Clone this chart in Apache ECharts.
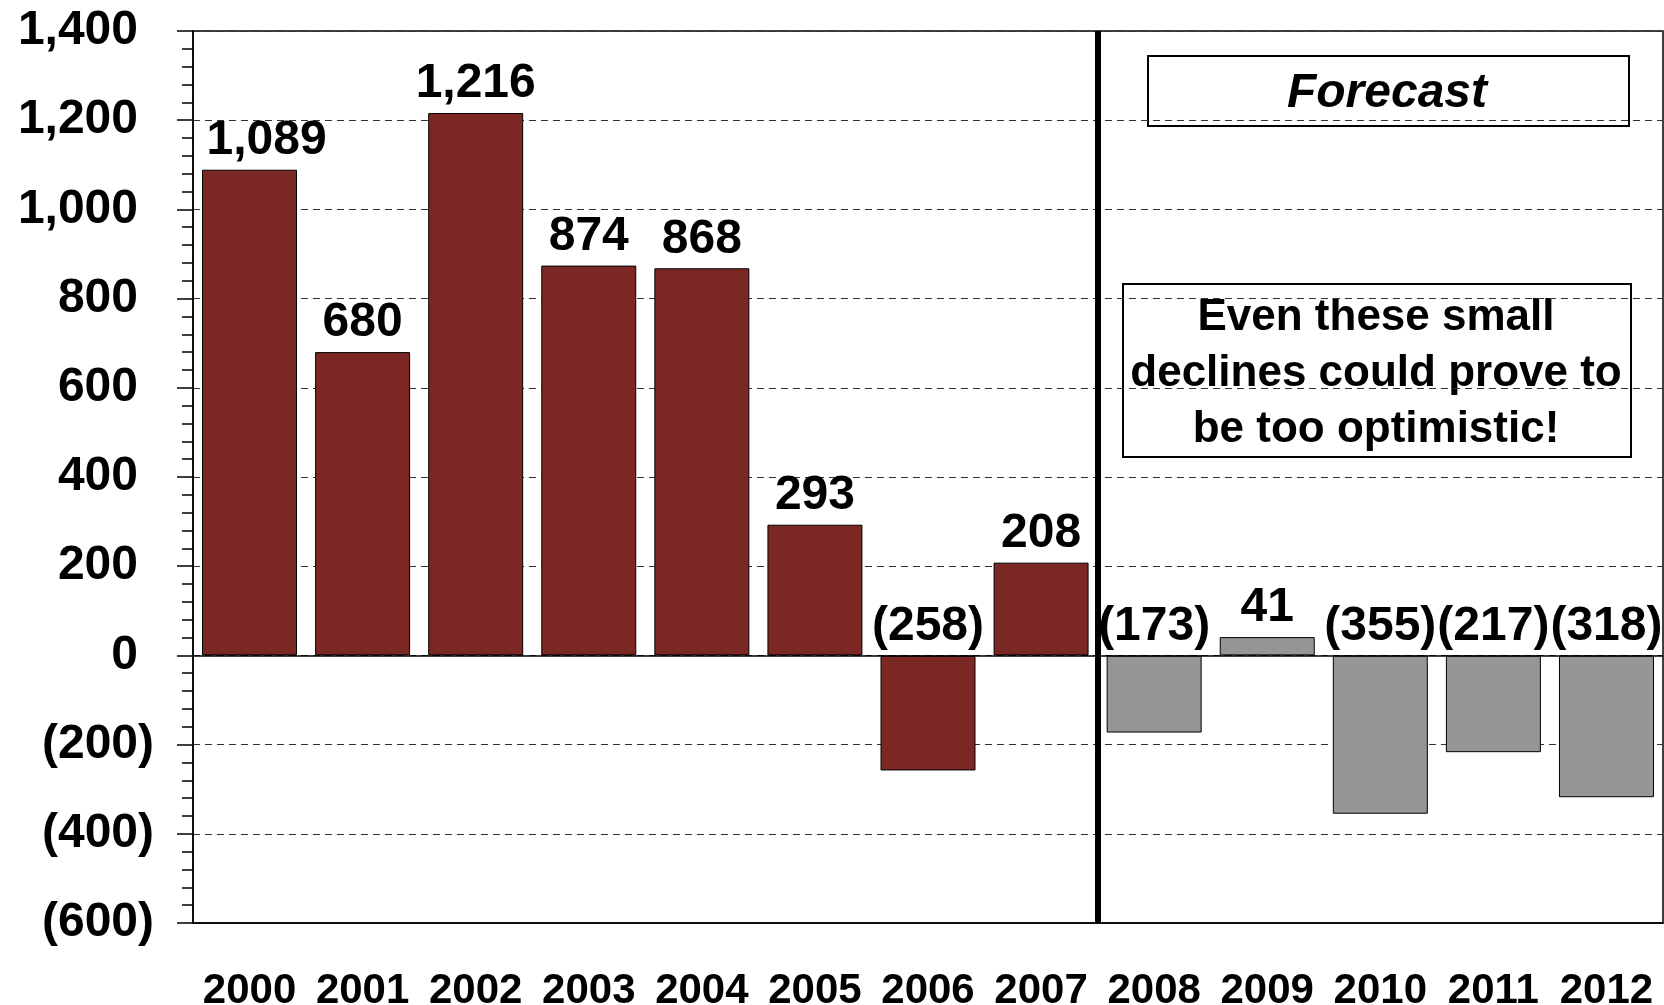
<!DOCTYPE html>
<html>
<head>
<meta charset="utf-8">
<style>
  html, body { margin: 0; padding: 0; background: #fff; }
  #main { width: 1664px; height: 1005px; }
</style>
</head>
<body>
<div id="main"></div>
<script src="https://cdn.jsdelivr.net/npm/echarts@6/dist/echarts.min.js"></script>
<script>
// years and values (history then forecast)
var years = ['2000', '2001', '2002', '2003', '2004', '2005', '2006', '2007',
             '2008', '2009', '2010', '2011', '2012'];
var actual = [1089, 680, 1216, 874, 868, 293, -258, 208];
var forecast = [-173, 41, -355, -217, -318];

var histColor = '#7b2824';
var foreColor = '#969696';
var font = '"Liberation Sans", Arial, sans-serif';

function fmt(v) {
  var s = Math.abs(v).toLocaleString('en-US');
  return v < 0 ? '(' + s + ')' : s;
}

var barData = actual.map(function (v) {
  return { value: v, itemStyle: { color: histColor } };
}).concat(forecast.map(function (v) {
  return { value: v, itemStyle: { color: foreColor } };
}));
// first label sits a bit right of its bar, clear of the axis
barData[0].label = { offset: [17, 0] };

var chart = echarts.init(document.getElementById('main'));
chart.setOption({
  animation: false,
  backgroundColor: '#fff',
  grid: {
    left: 193, top: 31, right: 1, bottom: 82,
    outerBoundsMode: 'none',
    containLabel: false,
    show: true, borderColor: '#000', borderWidth: 1.5
  },
  xAxis: [{
    type: 'category',
    data: years,
    axisLine: { onZero: false, lineStyle: { color: '#000', width: 1.5 } },
    axisTick: { show: false },
    axisLabel: {
      interval: 0,
      color: '#000', fontFamily: font, fontWeight: 'bold', fontSize: 42, margin: 47
    },
    splitLine: { show: false }
  }, {
    // hidden helper axis in category units, for the history/forecast divider
    type: 'value',
    min: 0, max: years.length,
    show: false
  }],
  yAxis: {
    type: 'value',
    min: -600, max: 1400, interval: 200,
    axisLine: { show: true, lineStyle: { color: '#000', width: 1.5 } },
    axisTick: { show: true, length: 16, lineStyle: { color: '#000', width: 1.5 } },
    minorTick: { show: true, splitNumber: 5, length: 11, lineStyle: { color: '#000', width: 1.5 } },
    splitLine: { show: true, lineStyle: { color: '#333', width: 1, type: [7, 5] } },
    axisLabel: {
      margin: 39,
      formatter: function (v) {
        return v < 0 ? '{n|' + fmt(v) + '}' : '{p|' + fmt(v) + '}';
      },
      rich: {
        p: { color: '#000', fontFamily: font, fontWeight: 'bold', fontSize: 48, padding: [0, 16, 0, 0] },
        n: { color: '#000', fontFamily: font, fontWeight: 'bold', fontSize: 48 }
      }
    }
  },
  series: [{
    type: 'bar',
    data: barData,
    barCategoryGap: '16%',
    itemStyle: { borderColor: '#000', borderWidth: 1 },
    label: {
      show: true,
      position: 'top',
      distance: 5,
      color: '#000',
      fontFamily: font,
      fontWeight: 'bold',
      fontSize: 48,
      formatter: function (p) { return fmt(p.value); }
    },
    markLine: {
      silent: true,
      symbol: 'none',
      label: { show: false },
      lineStyle: { color: '#000', width: 1.5, type: 'solid' },
      data: [{ yAxis: 0 }]
    }
  }, {
    type: 'line',
    xAxisIndex: 1,
    data: [],
    markLine: {
      silent: true,
      symbol: 'none',
      label: { show: false },
      lineStyle: { color: '#000', width: 6, type: 'solid' },
      data: [{ xAxis: actual.length }]
    }
  }],
  graphic: [
    {
      type: 'rect', left: 1147, top: 55,
      shape: { width: 481, height: 70 },
      style: { fill: '#fff', stroke: '#000', lineWidth: 2 }
    },
    {
      type: 'text', x: 1387, y: 94,
      style: {
        text: 'Forecast', fill: '#000', fontFamily: font, fontWeight: 'bold',
        fontStyle: 'italic', fontSize: 48, align: 'center', verticalAlign: 'middle'
      }
    },
    {
      type: 'rect', left: 1122, top: 283,
      shape: { width: 508, height: 173 },
      style: { fill: '#fff', stroke: '#000', lineWidth: 2 }
    },
    {
      type: 'text', x: 1376, y: 374,
      style: {
        text: 'Even these small\ndeclines could prove to\nbe too optimistic!',
        fill: '#000', fontFamily: font, fontWeight: 'bold', fontSize: 44,
        lineHeight: 56, align: 'center', verticalAlign: 'middle'
      }
    }
  ]
});
</script>
</body>
</html>
